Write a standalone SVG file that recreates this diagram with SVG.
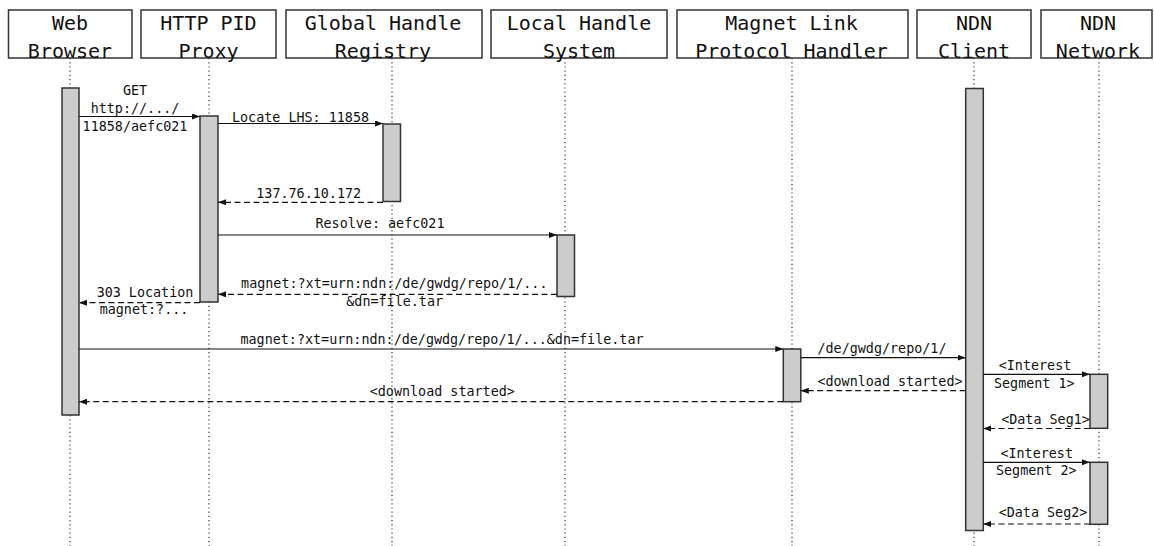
<svg xmlns="http://www.w3.org/2000/svg" width="1154" height="546" viewBox="0 0 1154 546">
<defs>
<style>
.box{fill:#fff;stroke:#333;stroke-width:1.5}
.ht{font-family:"DejaVu Sans Mono","Liberation Mono",monospace;font-size:20px;fill:#111;text-anchor:middle}
.life{stroke:#333;stroke-width:1.2;stroke-dasharray:1.2 3;fill:none}
.bar{fill:#cccccc;stroke:#333;stroke-width:1.5}
.msg{stroke:#111;stroke-width:1.2;fill:none;marker-end:url(#ah)}
.ret{stroke:#111;stroke-width:1.2;fill:none;stroke-dasharray:6 3.5;marker-end:url(#ah)}
.lt{font-family:"DejaVu Sans Mono","Liberation Mono",monospace;font-size:13.4px;fill:#111;text-anchor:middle}
</style>
<marker id="ah" markerUnits="userSpaceOnUse" markerWidth="9" markerHeight="7" refX="8" refY="3" orient="auto">
<path d="M0,0 L8,3 L0,6 z" fill="#111"/>
</marker>
</defs>
<rect width="1154" height="546" fill="#fff"/>

<g id="lifelines">
<line class="life" x1="70" y1="58" x2="70" y2="546"/>
<line class="life" x1="209" y1="58" x2="209" y2="546"/>
<line class="life" x1="392" y1="58" x2="392" y2="546"/>
<line class="life" x1="565" y1="58" x2="565" y2="546"/>
<line class="life" x1="792" y1="58" x2="792" y2="546"/>
<line class="life" x1="974" y1="58" x2="974" y2="546"/>
<line class="life" x1="1099" y1="58" x2="1099" y2="546"/>
</g>

<g id="web-browser">
<rect class="box" x="8.5" y="10" width="123.5" height="48"/>
<text class="ht" x="70" y="30">Web</text>
<text class="ht" x="70" y="58">Browser</text>
<rect class="bar" x="62" y="88" width="17" height="327"/>
</g>
<g id="http-pid-proxy">
<rect class="box" x="141" y="10" width="135" height="48"/>
<text class="ht" x="208.5" y="30">HTTP PID</text>
<text class="ht" x="208.5" y="58">Proxy</text>
<rect class="bar" x="200" y="116" width="18" height="186"/>
</g>
<g id="global-handle-registry">
<rect class="box" x="286" y="10" width="196" height="48"/>
<text class="ht" x="383" y="30">Global Handle</text>
<text class="ht" x="383" y="58">Registry</text>
<rect class="bar" x="383" y="124" width="17.5" height="77.5"/>
</g>
<g id="local-handle-system">
<rect class="box" x="491" y="10" width="176" height="48"/>
<text class="ht" x="579" y="30">Local Handle</text>
<text class="ht" x="579" y="58">System</text>
<rect class="bar" x="557" y="235" width="17.5" height="61.5"/>
</g>
<g id="magnet-link-handler">
<rect class="box" x="677" y="10" width="231" height="48"/>
<text class="ht" x="791.5" y="30">Magnet Link</text>
<text class="ht" x="791.5" y="58">Protocol Handler</text>
<rect class="bar" x="783.3" y="349" width="17.5" height="52.7"/>
</g>
<g id="ndn-client">
<rect class="box" x="917" y="10" width="114" height="48"/>
<text class="ht" x="974" y="30">NDN</text>
<text class="ht" x="974" y="58">Client</text>
<rect class="bar" x="965.7" y="88.5" width="17.6" height="442"/>
</g>
<g id="ndn-network">
<rect class="box" x="1041" y="10" width="111" height="48"/>
<text class="ht" x="1098" y="30">NDN</text>
<text class="ht" x="1098" y="58">Network</text>
<rect class="bar" x="1090" y="374.3" width="17.7" height="54"/>
<rect class="bar" x="1090" y="462.3" width="17.7" height="62"/>
</g>

<g id="connectors">
<line class="msg" x1="79" y1="116.5" x2="200" y2="116.5"/>
<line class="msg" x1="218" y1="123.5" x2="383" y2="123.5"/>
<line class="ret" x1="383" y1="202.3" x2="218" y2="202.3"/>
<line class="msg" x1="218" y1="235" x2="557" y2="235"/>
<line class="ret" x1="557" y1="294.3" x2="218" y2="294.3"/>
<line class="ret" x1="200" y1="302.7" x2="79" y2="302.7"/>
<line class="msg" x1="79" y1="349" x2="783.3" y2="349"/>
<line class="msg" x1="800.8" y1="357.7" x2="965.7" y2="357.7"/>
<line class="ret" x1="965.7" y1="390.7" x2="800.8" y2="390.7"/>
<line class="ret" x1="783.3" y1="401.7" x2="79" y2="401.7"/>
<line class="msg" x1="983.3" y1="374.3" x2="1090" y2="374.3"/>
<line class="ret" x1="1090" y1="428.5" x2="983.3" y2="428.5"/>
<line class="msg" x1="983.3" y1="462.3" x2="1090" y2="462.3"/>
<line class="ret" x1="1090" y1="524" x2="983.3" y2="524"/>
</g>

<g id="labels">
<text class="lt" x="135" y="95">GET</text>
<text class="lt" x="135" y="113">http://.../</text>
<text class="lt" x="135" y="130.5">11858/aefc021</text>
<text class="lt" x="300.5" y="121.5">Locate LHS: 11858</text>
<text class="lt" x="308.7" y="198.3">137.76.10.172</text>
<text class="lt" x="380" y="228.3">Resolve: aefc021</text>
<text class="lt" x="394.3" y="288.3">magnet:?xt=urn:ndn:/de/gwdg/repo/1/...</text>
<text class="lt" x="394.7" y="306">&amp;dn=file.tar</text>
<text class="lt" x="145" y="296.7">303 Location</text>
<text class="lt" x="144" y="314.3">magnet:?...</text>
<text class="lt" x="442" y="344">magnet:?xt=urn:ndn:/de/gwdg/repo/1/...&amp;dn=file.tar</text>
<text class="lt" x="882" y="353.3">/de/gwdg/repo/1/</text>
<text class="lt" x="890" y="385.7">&lt;download started&gt;</text>
<text class="lt" x="442.3" y="396">&lt;download started&gt;</text>
<text class="lt" x="1035" y="370">&lt;Interest</text>
<text class="lt" x="1034.3" y="388.3">Segment 1&gt;</text>
<text class="lt" x="1045.5" y="424.3">&lt;Data Seg1&gt;</text>
<text class="lt" x="1036.7" y="457.7">&lt;Interest</text>
<text class="lt" x="1036.3" y="475">Segment 2&gt;</text>
<text class="lt" x="1043" y="516.7">&lt;Data Seg2&gt;</text>
</g>
</svg>
